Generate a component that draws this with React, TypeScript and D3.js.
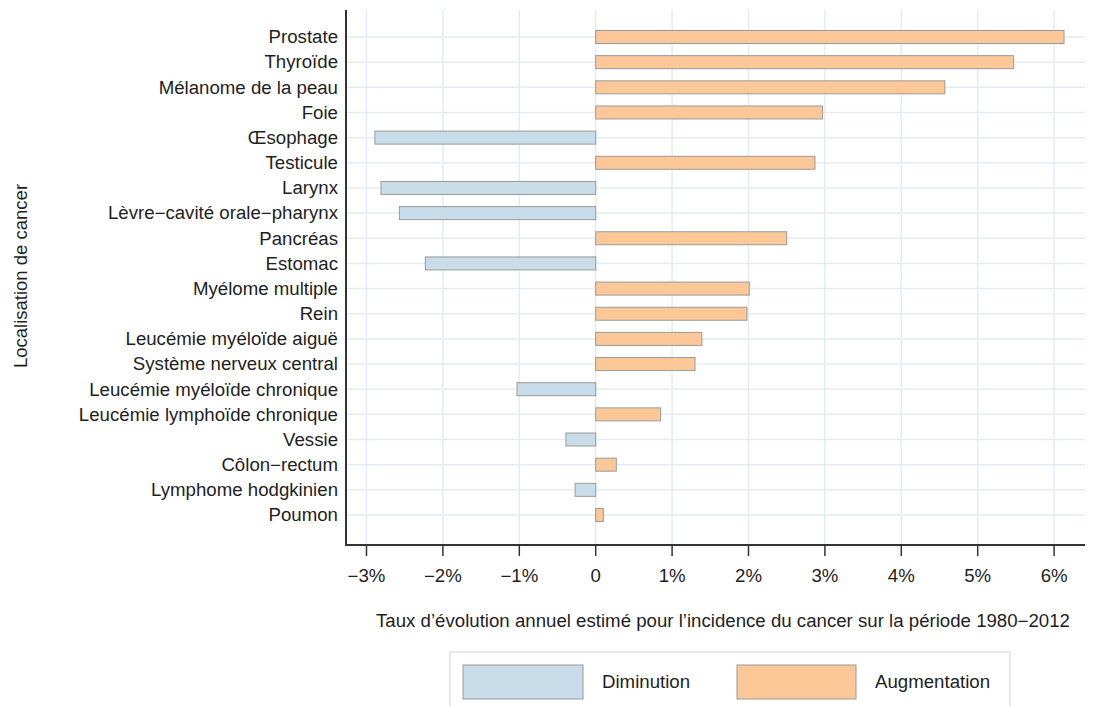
import React from "react";
import * as d3 from "d3";

const categories = [
  "Prostate", "Thyroïde", "Mélanome de la peau", "Foie", "Œsophage", "Testicule",
  "Larynx", "Lèvre−cavité orale−pharynx", "Pancréas", "Estomac", "Myélome multiple",
  "Rein", "Leucémie myéloïde aiguë", "Système nerveux central", "Leucémie myéloïde chronique",
  "Leucémie lymphoïde chronique", "Vessie", "Côlon−rectum", "Lymphome hodgkinien", "Poumon",
];
const values = [
  6.13, 5.47, 4.57, 2.97, -2.89, 2.87, -2.81, -2.57, 2.50, -2.23, 2.01,
  1.98, 1.39, 1.30, -1.03, 0.85, -0.39, 0.27, -0.27, 0.10,
];
const tickValues = [-3, -2, -1, 0, 1, 2, 3, 4, 5, 6];
const tickLabels = ["−3%", "−2%", "−1%", "0", "1%", "2%", "3%", "4%", "5%", "6%"];
const legendLabels = ["Diminution", "Augmentation"];

const W = 1102, H = 706;
const FONT = "'Liberation Sans', Arial, sans-serif";
const BLUE = "#c9dcea";
const ORANGE = "#fdc898";
const STROKE = "#9a9a9a";
const GRID = "#e3ecf2";
const TXT = "#1e1e1e";
const FS = 17.6;
const SX = 1.06;

function T({ x, y, anchor = "start", size = FS, children }: { x: number; y: number; anchor?: string; size?: number; children: React.ReactNode }) {
  return (
    <text transform={`translate(${x},${y}) scale(${SX},1)`} textAnchor={anchor} fontSize={size} fill={TXT}>
      {children}
    </text>
  );
}

export default function App() {
  const axisX = 346;
  const axisBottom = 545;
  const axisTop = 10;
  const x = d3.scaleLinear().domain([0, 1]).range([595.7, 672.1]);
  const y = d3.scalePoint<string>().domain(categories).range([37, 515]);
  const barH = 13;
  const rightEdge = 1085;

  return (
    <svg width={W} height={H} style={{ position: "absolute", left: 0, top: 0, fontFamily: FONT }}>
      <rect width={W} height={H} fill="#fff" />
      {tickValues.map((t) => (
        <line key={"vg" + t} x1={x(t)} x2={x(t)} y1={axisTop} y2={axisBottom} stroke={GRID} strokeWidth={1.5} />
      ))}
      {categories.map((c) => (
        <line key={"hg" + c} x1={axisX} x2={rightEdge} y1={y(c)} y2={y(c)} stroke={GRID} strokeWidth={1.5} />
      ))}
      {categories.map((c, i) => {
        const v = values[i];
        const x0 = x(Math.min(0, v));
        const x1 = x(Math.max(0, v));
        return (
          <rect key={"b" + c} x={x0} y={(y(c) as number) - barH / 2} width={x1 - x0} height={barH}
            fill={v < 0 ? BLUE : ORANGE} stroke={STROKE} strokeWidth={1} />
        );
      })}
      <line x1={axisX} x2={axisX} y1={axisTop} y2={axisBottom + 1} stroke="#333" strokeWidth={2} />
      <line x1={axisX - 1} x2={rightEdge} y1={axisBottom} y2={axisBottom} stroke="#333" strokeWidth={2} />
      {tickValues.map((t, i) => (
        <g key={"t" + t}>
          <line x1={x(t)} x2={x(t)} y1={axisBottom} y2={axisBottom + 11} stroke="#333" strokeWidth={1.5} />
          <T x={x(t)} y={582} anchor="middle">{tickLabels[i]}</T>
        </g>
      ))}
      {categories.map((c) => (
        <T key={"l" + c} x={338} y={(y(c) as number) + 6.3} anchor="end">{c}</T>
      ))}
      <text transform={`translate(27,276) rotate(-90)`} textAnchor="middle" fontSize={18.5} fill={TXT}>Localisation de cancer</text>
      <T x={723} y={627} anchor="middle">Taux d’évolution annuel estimé pour l’incidence du cancer sur la période 1980−2012</T>
      <rect x={450} y={652} width={560} height={60} fill="#fff" stroke="#e2e2e2" strokeWidth={1.5} />
      <rect x={463} y={665} width={120} height={34} fill={BLUE} stroke={STROKE} strokeWidth={1} />
      <T x={602} y={688}>{legendLabels[0]}</T>
      <rect x={737} y={665} width={119} height={34} fill={ORANGE} stroke={STROKE} strokeWidth={1} />
      <T x={875} y={688}>{legendLabels[1]}</T>
    </svg>
  );
}
